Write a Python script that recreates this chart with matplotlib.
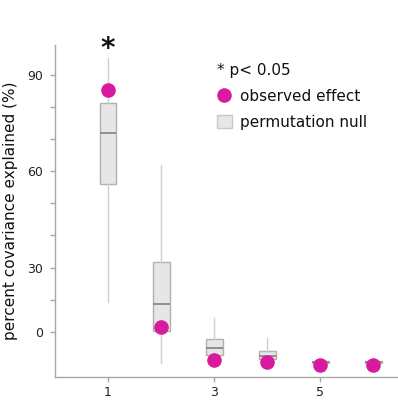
import matplotlib
matplotlib.use('Agg')
import matplotlib.pyplot as plt
from matplotlib.lines import Line2D
from matplotlib.patches import Patch

# 数据
components = [1, 2, 3, 4, 5, 6]
observed = [85.3, 11.4, 1.2, 0.5, -0.3, -0.3]
null_whislo = [19.4, 0.2, 1.5, 1.0, 0.3, 0.3]
null_q1 = [56.0, 10.3, 2.8, 1.4, 0.4, 0.4]
null_med = [71.8, 18.7, 4.9, 2.5, 0.7, 0.7]
null_q3 = [81.2, 31.8, 7.7, 4.1, 0.9, 0.9]
null_whishi = [95.2, 62.0, 14.2, 8.0, 1.1, 1.1]
significant = [1]

ytick_pos = [10, 30, 60, 90]
ytick_labels = ['0', '30', '60', '90']
xticks = [1, 3, 5]

magenta = '#d81b9c'
spine_c = '#a8a8a8'

fig = plt.figure(figsize=(3.98, 4.0), dpi=100)
ax = fig.add_axes([55/398, 1 - 376.7/400, 1 - 55/398, (376.7 - 45)/400])

stats = []
for i in range(len(components)):
    stats.append({'whislo': null_whislo[i], 'q1': null_q1[i], 'med': null_med[i],
                  'q3': null_q3[i], 'whishi': null_whishi[i], 'fliers': []})

ax.bxp(stats, positions=components, widths=0.32, patch_artist=True,
       showcaps=False, showfliers=False,
       boxprops=dict(facecolor='#e6e6e6', edgecolor='#b0b0b0', linewidth=1.0),
       medianprops=dict(color='#8a8a8a', linewidth=1.3),
       whiskerprops=dict(color='#d0d0d0', linewidth=1.0),
       zorder=2)

ax.plot(components, observed, 'o', color=magenta, markersize=10.5,
        markeredgewidth=0, zorder=4, clip_on=False)

for c in significant:
    ax.text(c, 98.0, '*', ha='center', va='center', fontsize=20,
            fontweight='bold', color='#111111', clip_on=False)

ax.set_xlim(0, 6.47)
ax.set_ylim(-4.0, 99.3)
ax.set_yticks(range(10, 100, 10), minor=True)
ax.set_yticks(ytick_pos)
ax.set_yticklabels(ytick_labels)
ax.set_xticks(xticks)
ax.set_xticklabels([str(x) for x in xticks])

for s in ['top', 'right']:
    ax.spines[s].set_visible(False)
for s in ['left', 'bottom']:
    ax.spines[s].set_color(spine_c)
    ax.spines[s].set_linewidth(1.0)
ax.tick_params(axis='both', which='both', colors=spine_c, labelcolor='#222222',
               labelsize=9, length=3.5, width=1.0)
ax.tick_params(axis='y', pad=5)
ax.tick_params(axis='x', pad=3)

ax.set_ylabel('percent covariance explained (%)', fontsize=11, color='#111111')
ax.yaxis.set_label_coords(-(55 - 18) / (398 - 55), 0.5)

handles = [Line2D([0], [0], marker='o', color='none', markerfacecolor=magenta,
                  markeredgewidth=0, markersize=10.5),
           Patch(facecolor='#e6e6e6', edgecolor='#c8c8c8')]
leg = ax.legend(handles, ['observed effect', 'permutation null'],
                title='* p< 0.05', title_fontsize=11, fontsize=11,
                loc='upper left', bbox_to_anchor=(217/398, 1 - 63/400),
                bbox_transform=fig.transFigure, frameon=False,
                alignment='left', borderaxespad=0, borderpad=0,
                handlelength=0.95, handleheight=0.95, handletextpad=0.55,
                labelspacing=0.72)
for t in leg.get_texts():
    t.set_color('#111111')
leg.get_title().set_color('#111111')

fig.savefig('out.png', dpi=100)
